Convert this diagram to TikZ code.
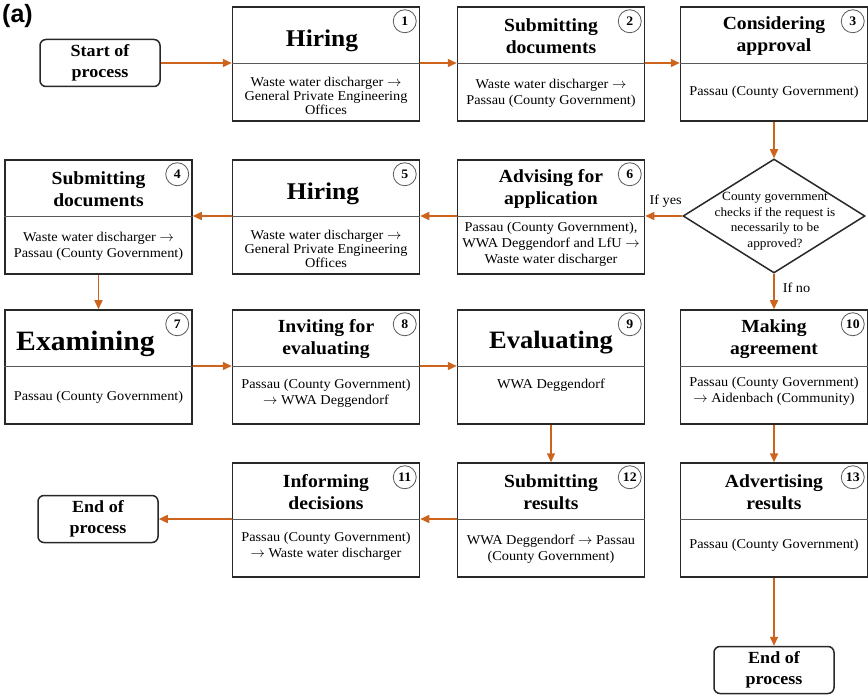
\documentclass[tikz,border=0pt]{standalone}
\usepackage{fontspec}
\setmainfont{Liberation Serif}[FakeStretch=1.06]
\newfontfamily\labfont{Liberation Sans}
\usetikzlibrary{shapes.geometric,arrows.meta}
\definecolor{arrorange}{RGB}{205,100,30}
\definecolor{boxline}{RGB}{40,40,40}
\newcommand\ra{\ensuremath{\rightarrow}}
\tikzset{
  pbox/.style={draw=boxline, line width=1.5pt, minimum width=187pt, minimum height=114pt, inner sep=0pt},
  divline/.style={draw=black!65, line width=0.9pt},
  bigtitle/.style={font=\fontsize{24}{28}\selectfont\bfseries, align=center, inner sep=0pt},
  twotitle/.style={font=\fontsize{18.5}{22.5}\selectfont\bfseries, align=center, inner sep=0pt},
  pbody/.style={font=\fontsize{13.5}{16}\selectfont, align=center, inner sep=0pt},
  pbodythree/.style={font=\fontsize{13.5}{14}\selectfont, align=center, inner sep=0pt},
  pnum/.style={circle, draw=black!65, line width=0.8pt, minimum size=23pt, inner sep=0pt, font=\fontsize{13}{13}\selectfont\bfseries},
  term/.style={draw=boxline, line width=1.5pt, rounded corners=6pt, minimum width=120pt, minimum height=47pt, inner sep=0pt, align=center, font=\fontsize{17}{21}\selectfont\bfseries},
  decision/.style={diamond, draw=boxline, line width=1.5pt, minimum width=182pt, minimum height=114pt, inner sep=0pt},
  dtext/.style={font=\fontsize{12.5}{15.5}\selectfont, align=center, inner sep=0pt},
  arr/.style={draw=arrorange, line width=1.5pt, -{Triangle[length=9pt,width=8pt]}},
  lbl/.style={font=\fontsize{13.5}{15}\selectfont, inner sep=0pt}
}
% #1 name, #2 cx, #3 ytop, #4 title style, #5 title, #6 body style, #7 body, #8 number
\newcommand\pbox[8]{%
  \node[pbox] (#1) at (#2,#3+57) {};
  \coordinate (#1d) at (#2,#3+56);
  \draw[divline] (#1d -| #1.west) -- (#1d -| #1.east);
  \node[#4] (#1t) at (#2,#3+29) {#5};
  \node[#6] (#1b) at (#2,#3+85) {#7};
  \node[pnum] (#1n) at ([xshift=-15.5pt,yshift=-15pt]#1.north east) {#8};
}
\begin{document}
\begin{tikzpicture}[x=1pt,y=-1pt]
\useasboundingbox (0,0) rectangle (868,695);

\node[font=\labfont\fontsize{25}{28}\selectfont\bfseries, anchor=north west, inner sep=0pt] (lab) at (2,4) {(a)};

\node[term] (start) at (100,63) {Start of\\process};

\pbox{b1}{326}{7}{bigtitle,xshift=-4pt,yshift=-5pt}{Hiring}{pbodythree,yshift=-4pt}{Waste water discharger \ra\\General Private Engineering\\Offices}{1}
\pbox{b2}{551}{7}{twotitle}{Submitting\\documents}{pbody,yshift=-1pt}{Waste water discharger \ra\\Passau (County Government)}{2}
\pbox{b3}{774}{7}{twotitle}{Considering\\approval}{pbody}{Passau (County Government)}{3}

\pbox{b4}{98.5}{160}{twotitle}{Submitting\\documents}{pbody,yshift=-1pt}{Waste water discharger \ra\\Passau (County Government)}{4}
\pbox{b5}{326}{160}{bigtitle,xshift=-3pt,yshift=-5pt}{Hiring}{pbodythree,yshift=-4pt}{Waste water discharger \ra\\General Private Engineering\\Offices}{5}
\pbox{b6}{551}{160}{twotitle}{Advising for\\application}{pbody,yshift=1pt}{Passau (County Government),\\WWA Deggendorf and LfU \ra\\Waste water discharger}{6}

\node[decision] (dec) at (774,216) {};
\node[dtext] (dect) at (775,221) {County government\\checks if the request is\\necessarily to be\\approved?};

\pbox{b7}{98.5}{310}{bigtitle,font=\fontsize{28}{30}\selectfont\bfseries,xshift=-13pt,yshift=-5pt}{Examining}{pbody,yshift=-2pt}{Passau (County Government)}{7}
\pbox{b8}{326}{310}{twotitle}{Inviting for\\evaluating}{pbody,yshift=2pt}{Passau (County Government)\\\ra{} WWA Deggendorf}{8}
\pbox{b9}{551}{310}{bigtitle,font=\fontsize{25}{28}\selectfont\bfseries,yshift=-4pt}{Evaluating}{pbody,yshift=10pt}{WWA Deggendorf}{9}
\pbox{b10}{774}{310}{twotitle}{Making\\agreement}{pbody,yshift=4pt}{Passau (County Government)\\\ra{} Aidenbach (Community)}{10}

\pbox{b11}{326}{463}{twotitle}{Informing\\decisions}{pbody,yshift=2pt}{Passau (County Government)\\\ra{} Waste water discharger}{11}
\pbox{b12}{551}{463}{twotitle}{Submitting\\results}{pbody,yshift=-1pt}{WWA Deggendorf \ra{} Passau\\(County Government)}{12}
\pbox{b13}{774}{463}{twotitle}{Advertising\\results}{pbody,yshift=3pt}{Passau (County Government)}{13}

\node[term] (end1) at (98,519) {End of\\process};
\node[term] (end2) at (774,670) {End of\\process};

% connectors
\draw[arr] (start.east) -- (start.east -| b1.west);
\draw[arr] (b1d -| b1.east) -- (b2d -| b2.west);
\draw[arr] (b2d -| b2.east) -- (b3d -| b3.west);
\draw[arr] (b3.south) -- (dec.north);
\draw[arr] (dec.west) -- (dec.west -| b6.east) node[lbl, pos=0.45, above=8pt] {If yes};
\draw[arr] (b6d -| b6.west) -- (b5d -| b5.east);
\draw[arr] (b5d -| b5.west) -- (b4d -| b4.east);
\draw[arr] (b4.south) -- (b7.north);
\draw[arr] (b7d -| b7.east) -- (b8d -| b8.west);
\draw[arr] (b8d -| b8.east) -- (b9d -| b9.west);
\draw[arr] (dec.south) -- (b10.north) node[lbl, pos=0.4, right=8pt] {If no};
\draw[arr] (b9.south) -- (b12.north);
\draw[arr] (b10.south) -- (b13.north);
\draw[arr] (b12d -| b12.west) -- (b11d -| b11.east);
\draw[arr] (b11d -| b11.west) -- (b11d -| end1.east);
\draw[arr] (b13.south) -- (end2.north);
\end{tikzpicture}
\end{document}
